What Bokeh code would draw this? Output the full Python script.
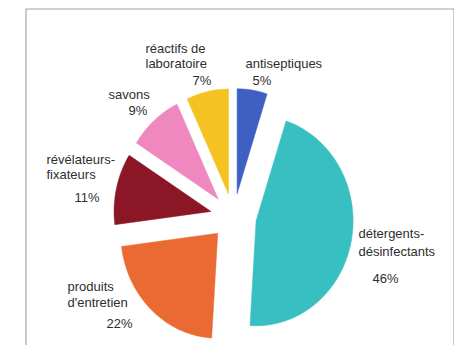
import numpy as np
from bokeh.plotting import figure
from bokeh.models import Range1d, ColumnDataSource
from bokeh.core.properties import value
from bokeh.embed import file_html
from bokeh.resources import INLINE

# ---- data ----
categories = ["antiseptiques", "détergents-\ndésinfectants", "produits\nd'entretien",
              "révélateurs-\nfixateurs", "savons", "réactifs de\nlaboratoire"]
values = [5, 46, 22, 11, 9, 7]
colors = ["#3d60c2", "#38bfc1", "#eb6a33", "#8a1626", "#ee88bf", "#f4c322"]

# ---- layout (pixel-like units, y up) ----
W, H = 454, 345
cx, cy = 233, 129          # pie centre
rx, ry = 97, 105           # pie radii (slightly stretched vertically as in the scan)
explode = 23

p = figure(width=W, height=H, output_backend="svg", toolbar_location=None,
           x_range=Range1d(0, W), y_range=Range1d(0, H),
           min_border=0, min_border_left=0, min_border_right=0,
           min_border_top=0, min_border_bottom=0)
p.axis.visible = False
p.grid.visible = False
p.outline_line_color = None
p.background_fill_color = "white"
p.border_fill_color = "white"

# frame drawn as an open box (left, top, right sides)
frame_l, frame_r, frame_t = 25.5, 453.5, 336.5
p.line(x=[frame_l, frame_l, frame_r, frame_r], y=[0, frame_t, frame_t, 0],
       line_color="#a4a4a4", line_width=1.2)

total = float(sum(values))
start = 0.0
xs, ys = [], []
for v in values:
    span = 2 * np.pi * v / total
    mid = start + span / 2
    ax = cx + explode * np.sin(mid)
    ay = cy + explode * np.cos(mid)
    t = np.linspace(start, start + span, 80)
    px = np.concatenate([[ax], ax + rx * np.sin(t)])
    py = np.concatenate([[ay], ay + ry * np.cos(t)])
    xs.append(list(px))
    ys.append(list(py))
    start += span

p.patches(xs=xs, ys=ys, fill_color=colors, line_color=colors, line_width=0.5)

# label placement (screen coords of left edge / vertical centre of each line)
name_pos = [(245, 63), (358, 233), (67, 286), (46, 159), (108, 94), (145, 48)]
pct_pos = [(252, 80), (372, 278), (106, 323), (74, 197), (128, 110), (192, 80)]
line_gap = [16, 18, 16, 15, 16, 15]

tx, ty, tt = [], [], []
for i, name in enumerate(categories):
    lines = name.split("\n")
    X, Y = name_pos[i]
    for k, ln in enumerate(lines):
        tx.append(X)
        ty.append(H - (Y + k * line_gap[i]))
        tt.append(ln)
    X, Y = pct_pos[i]
    tx.append(X)
    ty.append(H - Y)
    tt.append(f"{values[i]}%")

src = ColumnDataSource(dict(x=tx, y=ty, text=tt))
p.text(x="x", y="y", text="text", source=src, text_font=value("Liberation Sans"),
       text_font_size="13px", text_color="#2e2e2e", text_align="left",
       text_baseline="middle")

open("out.html", "w").write(file_html(p, INLINE))
